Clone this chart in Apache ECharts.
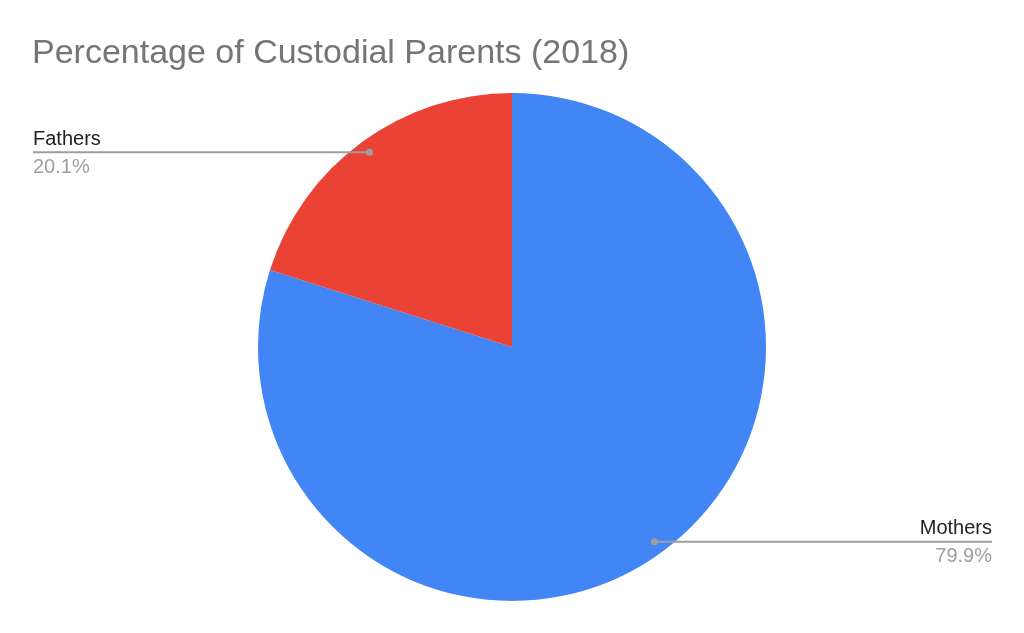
<!DOCTYPE html>
<html>
<head>
<meta charset="utf-8">
<script src="https://cdn.jsdelivr.net/npm/echarts@6/dist/echarts.min.js"></script>
<style>html,body{margin:0;padding:0;background:#fff}#c{width:1024px;height:633px}</style>
</head>
<body>
<div id="c"></div>
<script>
var categories = ['Mothers', 'Fathers'];
var values = [79.9, 20.1];
var colors = ['#4285F4', '#EA4335'];

var CX = 512, CY = 347, R = 254;
var total = values.reduce(function (a, b) { return a + b; }, 0);

function dotPoint(i) {
  var before = 0;
  for (var k = 0; k < i; k++) before += values[k];
  var mid = (before + values[i] / 2) / total * 2 * Math.PI; // clockwise from top
  var rr = R * 0.95;
  return [CX + rr * Math.sin(mid), CY - rr * Math.cos(mid)];
}
function edgeX(i) { return dotPoint(i)[0] < CX ? 33 : 992; }

var chart = echarts.init(document.getElementById('c'));
var font = '"Liberation Sans", Arial, sans-serif';
var guides = [];
categories.forEach(function (c, i) {
  var p = dotPoint(i);
  guides.push({ type: 'polyline', z: 100, shape: { points: [[p[0], p[1]], [edgeX(i), p[1]]] },
    style: { stroke: '#9e9e9e', lineWidth: 2, fill: null } });
  guides.push({ type: 'circle', z: 101, shape: { cx: p[0], cy: p[1], r: 3.5 }, style: { fill: '#9e9e9e' } });
});

chart.setOption({
  animation: false,
  backgroundColor: '#ffffff',
  title: {
    text: 'Percentage of Custodial Parents (2018)',
    left: 32, top: 37, padding: 0,
    textStyle: { fontFamily: font, fontSize: 34, fontWeight: 'normal', color: '#757575' }
  },
  graphic: guides,
  series: [{
    type: 'pie',
    center: [CX, CY],
    radius: [0, R],
    startAngle: 90,
    clockwise: true,
    percentPrecision: 1,
    data: categories.map(function (c, i) {
      return { name: c, value: values[i], itemStyle: { color: colors[i] } };
    }),
    label: {
      show: true,
      formatter: '{n|{b}}\n{g|}\n{p|{d}%}',
      rich: {
        n: { fontFamily: font, fontSize: 20, color: '#222222', lineHeight: 28 },
        g: { fontSize: 1, lineHeight: 2 },
        p: { fontFamily: font, fontSize: 20, color: '#9e9e9e', lineHeight: 24 }
      }
    },
    labelLine: { show: false },
    labelLayout: function (params) {
      var i = params.dataIndex;
      var p = dotPoint(i);
      var left = p[0] < CX;
      return {
        x: edgeX(i), y: p[1],
        align: left ? 'left' : 'right',
        verticalAlign: 'middle'
      };
    }
  }]
});
</script>
</body>
</html>
